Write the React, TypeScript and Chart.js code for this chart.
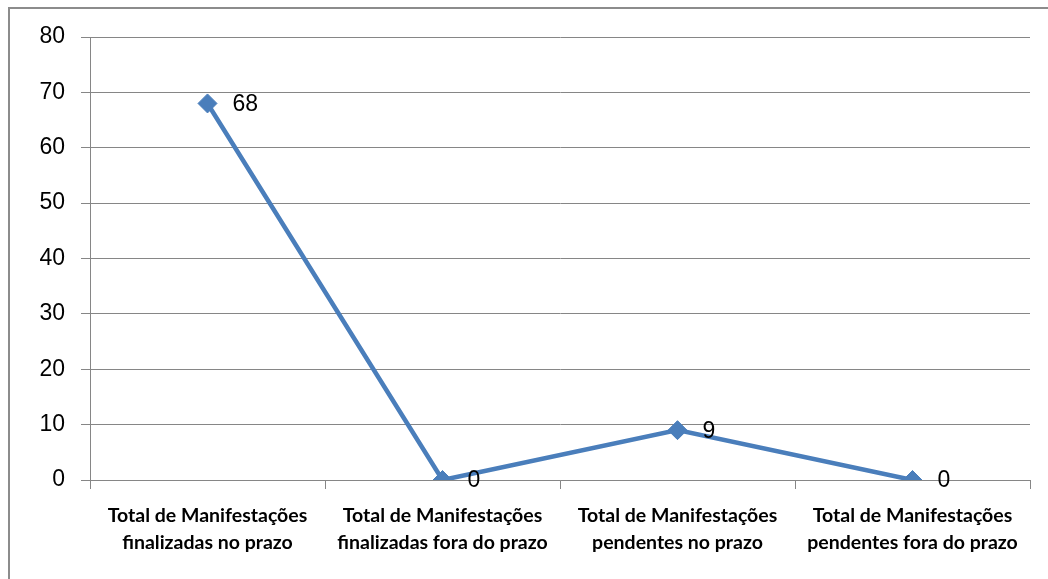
import React, { useEffect, useRef } from "react";
import { Chart, registerables } from "chart.js";

Chart.register(...registerables);

const categories: string[][] = [
  ["Total de Manifestações", "finalizadas no prazo"],
  ["Total de Manifestações", "finalizadas fora do prazo"],
  ["Total de Manifestações", "pendentes no prazo"],
  ["Total de Manifestações", "pendentes fora do prazo"],
];
const values: number[] = [68, 0, 9, 0];
const yMin = 0;
const yMax = 80;
const yStep = 10;

const LINE_COLOR = "#4A7EBB";
const GRID_COLOR = "#868686";

const dataLabelPlugin = {
  id: "dataLabels",
  afterDatasetsDraw(chart: any) {
    const ctx = chart.ctx;
    const meta = chart.getDatasetMeta(0);
    ctx.save();
    ctx.font = "23px 'Liberation Sans'";
    ctx.fillStyle = "#000";
    ctx.textAlign = "left";
    ctx.textBaseline = "middle";
    meta.data.forEach((pt: any, i: number) => {
      ctx.fillText(String(chart.data.datasets[0].data[i]), pt.x + 25, pt.y + 1);
    });
    ctx.restore();
  },
};

export default function App() {
  const ref = useRef<HTMLCanvasElement>(null);
  useEffect(() => {
    if (!ref.current) return;
    const chart = new Chart(ref.current, {
      type: "line",
      data: {
        labels: categories,
        datasets: [
          {
            data: values,
            borderColor: LINE_COLOR,
            backgroundColor: LINE_COLOR,
            borderWidth: 4.5,
            pointStyle: "rectRot",
            pointRadius: 9.5,
            pointHoverRadius: 9.5,
            pointBackgroundColor: LINE_COLOR,
            pointBorderColor: LINE_COLOR,
            pointBorderWidth: 1,
            tension: 0,
          },
        ],
      },
      options: {
        animation: false,
        responsive: true,
        maintainAspectRatio: false,
        layout: { padding: { top: 37, right: 18, bottom: 0, left: 0 } },
        plugins: {
          legend: { display: false },
          tooltip: { enabled: false },
        },
        scales: {
          x: {
            offset: true,
            afterFit: (s: any) => {
              s.height = 99;
            },
            grid: {
              offset: true,
              drawOnChartArea: false,
              tickLength: 9,
              color: GRID_COLOR,
            },
            border: { color: GRID_COLOR, width: 1 },
            ticks: {
              color: "#000",
              padding: 13,
              maxRotation: 0,
              autoSkip: false,
              font: { family: "Lato", size: 19.5, weight: "bold", lineHeight: 1.38 },
            },
          },
          y: {
            min: yMin,
            max: yMax,
            afterFit: (s: any) => {
              s.width = 90;
            },
            grid: { color: GRID_COLOR, tickLength: 9, lineWidth: 1 },
            border: { color: GRID_COLOR, width: 1 },
            ticks: {
              stepSize: yStep,
              color: "#000",
              padding: 16,
              font: { family: "Liberation Sans", size: 23 },
            },
          },
        },
      },
      plugins: [dataLabelPlugin],
    });
    return () => chart.destroy();
  }, []);

  return (
    <div
      style={{
        position: "fixed",
        left: 0,
        top: 0,
        width: 1048,
        height: 579,
        background: "#fff",
        overflow: "hidden",
      }}
    >
      <div
        style={{
          position: "absolute",
          left: 8,
          top: 7,
          width: 1100,
          height: 700,
          borderLeft: "2px solid #8C8C8C",
          borderTop: "2px solid #8C8C8C",
        }}
      />
      <div style={{ position: "absolute", left: 0, top: 0, width: 1048, height: 579 }}>
        <canvas ref={ref} />
      </div>
    </div>
  );
}
